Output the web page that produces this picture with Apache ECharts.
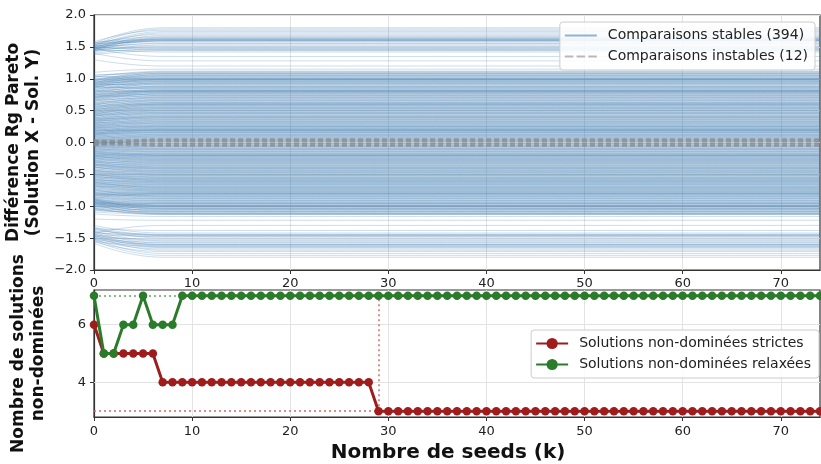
<!DOCTYPE html>
<html>
<head>
<meta charset="utf-8">
<script src="https://cdn.jsdelivr.net/npm/echarts@6/dist/echarts.min.js"></script>
<style>
html,body{margin:0;padding:0;background:#fff;}
#chart{width:821px;height:464px;}
</style>
</head>
<body>
<div id="chart"></div>
<script>
// ---------- DATA ----------
// Top panel: stable comparisons (394 lines): value at k=0 and settled value
const stableTopFinal = [1.80,1.78,1.76,1.74,1.72,1.70,1.68,1.66,1.65,1.64,1.63,1.62,1.62,1.61,1.61,1.60,1.60,1.59,1.58,1.56,1.55,1.53,1.51,1.50,1.48,1.47,1.46,1.45,1.44,1.42];
const stableTopStart = [1.55,1.52,1.58,1.50,1.47,1.53,1.45,1.56,1.49,1.44,1.52,1.57,1.46,1.50,1.54,1.48,1.43,1.51,1.55,1.46,1.49,1.42,1.52,1.45,1.48,1.40,1.50,1.44,1.38,1.47];
const stableGapHiFinal = [1.35,1.28,1.20,1.15];
const stableGapHiStart = [1.48,1.40,1.30,1.10];
const stableMidPosFinal = [
 1.12,1.11,1.10,1.09,1.08,1.08,1.07,1.06,1.05,1.045,1.04,1.03,1.02,1.01,1.005,1.00,1.00,0.99,0.99,0.985,
 0.98,0.97,0.965,0.96,0.95,0.95,0.94,0.93,0.925,0.92,0.91,0.90,0.89,0.88,0.875,0.87,0.86,0.855,0.85,0.84,
 0.83,0.82,0.82,0.815,0.81,0.805,0.80,0.80,0.79,0.785,0.78,0.77,0.765,0.76,0.75,0.74,0.735,0.73,0.72,0.71,
 0.705,0.70,0.69,0.68,0.67,0.665,0.66,0.65,0.64,0.63,0.625,0.62,0.61,0.605,0.60,0.60,0.59,0.585,0.58,0.57,
 0.56,0.555,0.55,0.54,0.535,0.53,0.52,0.51,0.505,0.50,0.49,0.48,0.475,0.47,0.46,0.455,0.45,0.44,0.43,0.42,
 0.415,0.41,0.40,0.40,0.39,0.385,0.38,0.37,0.36,0.355,0.35,0.34,0.33,0.325,0.32,0.31,0.305,0.30,0.29,0.28,
 0.275,0.27,0.26,0.255,0.25,0.245,0.24,0.23,0.225,0.22,0.21,0.205,0.20,0.20,0.19,0.19,0.185,0.18,0.17,0.165,
 0.16,0.155,0.15,0.14,0.13,0.125,0.12,0.11,0.105,0.10,0.09,0.085,0.08,0.07,0.06,0.055,0.05,0.04,0.035,0.03,0.02,0.015,0.01];
const stableMidPosStart = [
 1.02,0.96,1.05,0.93,0.99,1.06,0.90,0.98,0.94,1.03,0.88,0.97,0.92,1.00,0.86,0.95,1.04,0.89,0.93,0.98,
 0.85,0.91,0.96,0.82,0.88,0.93,0.80,0.87,0.90,0.78,0.84,0.92,0.76,0.83,0.86,0.79,0.74,0.81,0.88,0.72,
 0.77,0.70,0.79,0.74,0.68,0.76,0.72,0.81,0.66,0.71,0.75,0.64,0.70,0.68,0.73,0.62,0.67,0.71,0.60,0.65,
 0.58,0.66,0.61,0.55,0.63,0.59,0.52,0.60,0.56,0.50,0.58,0.54,0.48,0.57,0.51,0.55,0.46,0.53,0.49,0.44,
 0.52,0.47,0.43,0.50,0.45,0.40,0.48,0.42,0.46,0.38,0.44,0.41,0.36,0.43,0.39,0.34,0.42,0.37,0.33,0.39,
 0.35,0.31,0.37,0.33,0.29,0.36,0.32,0.27,0.34,0.30,0.25,0.31,0.28,0.24,0.30,0.26,0.22,0.28,0.24,0.21,
 0.26,0.20,0.23,0.18,0.24,0.19,0.16,0.22,0.17,0.14,0.20,0.15,0.18,0.12,0.16,0.19,0.13,0.15,0.11,0.14,
 0.12,0.09,0.13,0.10,0.07,0.11,0.08,0.05,0.09,0.06,0.04,0.07,0.03,0.05,0.02,0.04,0.01,0.03,-0.01,0.02,0.00,-0.02,0.01];
const stableMidNegFinal = [
 -0.01,-0.015,-0.02,-0.03,-0.04,-0.045,-0.05,-0.06,-0.065,-0.07,-0.08,-0.09,-0.095,-0.10,-0.11,-0.115,-0.12,-0.13,-0.14,-0.145,-0.15,-0.16,-0.17,
 -0.175,-0.18,-0.19,-0.195,-0.20,-0.20,-0.205,-0.21,-0.22,-0.225,-0.23,-0.24,-0.245,-0.25,-0.26,-0.265,-0.27,-0.28,-0.285,-0.29,
 -0.30,-0.305,-0.31,-0.32,-0.325,-0.33,-0.34,-0.35,-0.355,-0.36,-0.37,-0.38,-0.385,-0.39,-0.40,-0.40,-0.41,-0.415,-0.42,-0.43,
 -0.44,-0.445,-0.45,-0.46,-0.465,-0.47,-0.48,-0.49,-0.495,-0.50,-0.51,-0.515,-0.52,-0.53,-0.54,-0.545,-0.55,-0.56,-0.565,-0.57,
 -0.58,-0.585,-0.59,-0.60,-0.60,-0.61,-0.615,-0.62,-0.63,-0.635,-0.64,-0.65,-0.655,-0.66,-0.67,-0.68,-0.685,-0.69,-0.70,-0.705,
 -0.71,-0.72,-0.725,-0.73,-0.74,-0.745,-0.75,-0.76,-0.765,-0.77,-0.78,-0.785,-0.79,-0.80,-0.80,-0.805,-0.81,-0.82,-0.82,-0.83,
 -0.84,-0.845,-0.85,-0.86,-0.87,-0.875,-0.88,-0.89,-0.90,-0.91,-0.915,-0.92,-0.93,-0.94,-0.95,-0.95,-0.955,-0.96,-0.97,-0.98,
 -0.985,-0.99,-0.99,-1.00,-1.00,-1.005,-1.01,-1.02,-1.03,-1.04,-1.045,-1.05,-1.06,-1.07,-1.08,-1.08,-1.09,-1.10,-1.11,-1.12,-1.115,-1.125,-1.13,-1.035];
const stableMidNegStart = [
 0.01,-0.02,0.00,-0.04,-0.01,-0.03,-0.05,-0.02,-0.06,-0.04,-0.07,-0.05,-0.08,-0.06,-0.09,-0.11,-0.07,-0.10,-0.12,-0.09,-0.13,-0.11,-0.14,
 -0.16,-0.13,-0.17,-0.15,-0.19,-0.14,-0.18,-0.21,-0.16,-0.20,-0.17,-0.22,-0.19,-0.23,-0.20,-0.24,-0.22,-0.25,-0.21,-0.26,
 -0.24,-0.28,-0.27,-0.30,-0.25,-0.31,-0.29,-0.33,-0.28,-0.34,-0.31,-0.35,-0.30,-0.36,-0.33,-0.38,-0.34,-0.39,-0.35,-0.40,
 -0.36,-0.42,-0.39,-0.44,-0.38,-0.45,-0.41,-0.46,-0.43,-0.48,-0.44,-0.49,-0.46,-0.51,-0.47,-0.52,-0.49,-0.54,-0.50,-0.55,
 -0.50,-0.56,-0.53,-0.58,-0.52,-0.59,-0.55,-0.60,-0.57,-0.62,-0.58,-0.63,-0.60,-0.65,-0.61,-0.66,-0.63,-0.68,-0.64,-0.69,
 -0.62,-0.67,-0.70,-0.65,-0.72,-0.68,-0.74,-0.69,-0.76,-0.71,-0.78,-0.73,-0.80,-0.75,-0.82,-0.77,-0.84,-0.79,-0.86,-0.81,
 -0.74,-0.80,-0.83,-0.78,-0.86,-0.81,-0.88,-0.83,-0.90,-0.85,-0.92,-0.87,-0.94,-0.89,-0.96,-0.91,-0.98,-0.93,-1.00,-0.95,
 -0.88,-0.93,-1.01,-0.90,-0.97,-0.94,-1.03,-0.91,-0.98,-0.95,-1.05,-0.92,-1.00,-0.96,-1.07,-0.94,-1.02,-0.99,-1.06,-1.04,-0.97,-1.09,-1.03,-0.89];
const stableGapLoFinal = [-1.16,-1.22,-1.30,-1.38];
const stableGapLoStart = [-1.12,-1.20,-1.42,-1.35];
const stableBotFinal = [-1.42,-1.44,-1.45,-1.45,-1.46,-1.47,-1.48,-1.50,-1.52,-1.54,-1.55,-1.57,-1.58,-1.60,-1.60,-1.61,-1.62,-1.63,-1.64,-1.65,-1.67,-1.69,-1.71,-1.74,-1.77,-1.80];
const stableBotStart = [-1.30,-1.38,-1.33,-1.42,-1.36,-1.45,-1.40,-1.34,-1.47,-1.39,-1.44,-1.50,-1.41,-1.46,-1.52,-1.43,-1.48,-1.55,-1.45,-1.50,-1.53,-1.47,-1.56,-1.51,-1.54,-1.58];
// Unstable comparisons (12 lines)
const unstableFinal = [0.06,0.05,0.04,0.03,0.02,0.01,-0.01,-0.02,-0.03,-0.04,-0.05,-0.06];
const unstableStart = [-0.02,0.03,-0.05,0.01,-0.03,0.02,-0.04,0.00,0.04,-0.01,0.02,-0.03];
// k positions where the top-panel lines are sampled: start, settled, end
const sampleK = [0, 7, 74];

// Bottom panel
const seeds = [0,1,2,3,4,5,6,7,8,9,10,11,12,13,14,15,16,17,18,19,20,21,22,23,24,25,26,27,28,29,30,31,32,33,34,35,36,37,38,39,40,41,42,43,44,45,46,47,48,49,50,51,52,53,54,55,56,57,58,59,60,61,62,63,64,65,66,67,68,69,70,71,72,73,74];
const strictCounts = [6,5,5,5,5,5,5,4,4,4,4,4,4,4,4,4,4,4,4,4,4,4,4,4,4,4,4,4,4,3,3,3,3,3,3,3,3,3,3,3,3,3,3,3,3,3,3,3,3,3,3,3,3,3,3,3,3,3,3,3,3,3,3,3,3,3,3,3,3,3,3,3,3,3,3];
const relaxedCounts = [7,5,5,6,6,7,6,6,6,7,7,7,7,7,7,7,7,7,7,7,7,7,7,7,7,7,7,7,7,7,7,7,7,7,7,7,7,7,7,7,7,7,7,7,7,7,7,7,7,7,7,7,7,7,7,7,7,7,7,7,7,7,7,7,7,7,7,7,7,7,7,7,7,7,7];
const strictFinalLevel = 3, strictStableFrom = 29, relaxedLevel = 7;
const xTicks = [0,10,20,30,40,50,60,70];
const bottomYTicks = [4, 6];

const NAME_STABLE = 'Comparaisons stables (394)';
const NAME_UNSTABLE = 'Comparaisons instables (12)';
const NAME_STRICT = 'Solutions non-dominées strictes';
const NAME_RELAXED = 'Solutions non-dominées relaxées';

// ---------- BUILD ----------
const FONT = 'DejaVu Sans';
const GRIDC = '#e3e3e3';
const stableFinal = [].concat(stableTopFinal, stableGapHiFinal, stableMidPosFinal, stableMidNegFinal, stableGapLoFinal, stableBotFinal);
const stableStart = [].concat(stableTopStart, stableGapHiStart, stableMidPosStart, stableMidNegStart, stableGapLoStart, stableBotStart);

const series = [];
// vertical grid lines (both panels) at the x ticks
[0, 1].forEach(g => series.push({
  type: 'line', xAxisIndex: g, yAxisIndex: g, data: [], silent: true, z: 1,
  markLine: {
    silent: true, symbol: 'none', label: { show: false }, z: 1,
    lineStyle: { color: GRIDC, type: 'solid', width: 1 },
    data: xTicks.filter(v => v > 0).map(v => ({ xAxis: v }))
  }
}));
for (let i = 0; i < stableFinal.length; i++) {
  series.push({
    type: 'line', name: NAME_STABLE, xAxisIndex: 0, yAxisIndex: 0,
    data: [[sampleK[0], stableStart[i]], [sampleK[1], stableFinal[i]], [sampleK[2], stableFinal[i]]],
    smooth: 0.5, symbol: 'none', silent: true, z: 2,
    itemStyle: { color: '#4682b4' },
    lineStyle: { color: '#4682b4', width: 1, opacity: 0.27 }
  });
}
for (let i = 0; i < unstableFinal.length; i++) {
  series.push({
    type: 'line', name: NAME_UNSTABLE, xAxisIndex: 0, yAxisIndex: 0,
    data: [[sampleK[0], unstableStart[i]], [sampleK[1], unstableFinal[i]], [sampleK[2], unstableFinal[i]]],
    smooth: 0.5, symbol: 'none', silent: true, z: 3,
    itemStyle: { color: '#999999' },
    lineStyle: { color: '#8a8a8a', width: 1.5, type: [5, 3], opacity: 0.45 }
  });
}
const RED = '#9e1c1c', GREEN = '#2a7b2a';
series.push({
  type: 'line', name: NAME_STRICT, xAxisIndex: 1, yAxisIndex: 1,
  data: seeds.map((k, i) => [k, strictCounts[i]]),
  symbol: 'circle', symbolSize: 8.5, z: 4,
  itemStyle: { color: RED }, lineStyle: { color: RED, width: 3 },
  markLine: {
    silent: true, symbol: 'none', label: { show: false }, z: 2,
    lineStyle: { color: '#d06a6a', type: [2, 3], width: 1.5 },
    data: [
      [{ coord: [0, strictFinalLevel] }, { coord: [74, strictFinalLevel] }],
      [{ coord: [strictStableFrom, strictFinalLevel] }, { coord: [strictStableFrom, relaxedLevel] }]
    ]
  }
});
series.push({
  type: 'line', name: NAME_RELAXED, xAxisIndex: 1, yAxisIndex: 1,
  data: seeds.map((k, i) => [k, relaxedCounts[i]]),
  symbol: 'circle', symbolSize: 8.5, z: 5,
  itemStyle: { color: GREEN }, lineStyle: { color: GREEN, width: 3 },
  markLine: {
    silent: true, symbol: 'none', label: { show: false }, z: 2,
    lineStyle: { color: '#5fa85f', type: [2, 3], width: 1.5 },
    data: [[{ coord: [0, relaxedLevel] }, { coord: [74, relaxedLevel] }]]
  }
});
// light horizontal grid lines at the bottom panel's y ticks
series.push({
  type: 'line', xAxisIndex: 1, yAxisIndex: 1, data: [], silent: true, z: 1,
  markLine: {
    silent: true, symbol: 'none', label: { show: false }, z: 1,
    lineStyle: { color: GRIDC, type: 'solid', width: 1 },
    data: bottomYTicks.map(v => ({ yAxis: v }))
  }
});

const minus = s => s.replace('-', '\u2212');
const axisCommon = {
  axisLine: { show: true, onZero: false, lineStyle: { color: '#333', width: 1.2 } },
  axisTick: { show: true, length: 4, lineStyle: { color: '#333', width: 1 } },
  axisLabel: { color: '#222', fontSize: 13, fontFamily: FONT },
  splitLine: { show: true, lineStyle: { color: GRIDC, width: 1 } }
};
function xAxisFor(grid, margin) {
  return Object.assign({}, axisCommon, {
    type: 'value', gridIndex: grid, min: 0, max: 74, interval: 10,
    axisTick: Object.assign({}, axisCommon.axisTick, { customValues: xTicks }),
    axisLabel: Object.assign({}, axisCommon.axisLabel, { margin: margin, customValues: xTicks }),
    splitLine: { show: false }
  });
}
const axisNameStyle = { fontSize: 17, fontWeight: 'bold', color: '#111', fontFamily: FONT, lineHeight: 20 };
const legendCommon = {
  orient: 'vertical', padding: [5, 8, 5, 4], itemGap: 4, z: 10,
  itemWidth: 32, itemHeight: 14,
  backgroundColor: 'rgba(255,255,255,0.85)', borderColor: '#cccccc', borderWidth: 1, borderRadius: 3,
  textStyle: { fontSize: 14, color: '#222', fontFamily: FONT, padding: [0, 0, 0, 6], lineHeight: 17 }
};

const option = {
  animation: false,
  backgroundColor: '#fff',
  textStyle: { fontFamily: FONT },
  grid: [
    { left: 94, right: 1, top: 15, height: 255, show: true, borderColor: '#333', borderWidth: 1.2, containLabel: false, outerBoundsMode: 'none' },
    { left: 94, right: 1, top: 290, height: 127, show: true, borderColor: '#333', borderWidth: 1.2, containLabel: false, outerBoundsMode: 'none' }
  ],
  xAxis: [
    xAxisFor(0, 7),
    Object.assign(xAxisFor(1, 8), {
      name: 'Nombre de seeds (k)', nameLocation: 'middle', nameGap: 26,
      nameTextStyle: { fontSize: 20, fontWeight: 'bold', color: '#111', fontFamily: FONT, padding: [0, 18, 0, 0] } })
  ],
  yAxis: [
    Object.assign({}, axisCommon, { type: 'value', gridIndex: 0, min: -2, max: 2, interval: 0.5,
      axisLabel: Object.assign({}, axisCommon.axisLabel, { margin: 8, formatter: v => minus(v.toFixed(1)) }),
      name: 'Différence Rg Pareto\n(Solution X - Sol. Y)', nameLocation: 'middle', nameGap: 45,
      nameTextStyle: axisNameStyle }),
    Object.assign({}, axisCommon, { type: 'value', gridIndex: 1, min: 2.8, max: 7.2,
      axisTick: Object.assign({}, axisCommon.axisTick, { customValues: bottomYTicks }),
      axisLabel: Object.assign({}, axisCommon.axisLabel, { margin: 8, customValues: bottomYTicks, formatter: v => String(v) }),
      splitLine: { show: false },
      name: 'Nombre de solutions\nnon-dominées', nameLocation: 'middle', nameGap: 45,
      nameTextStyle: axisNameStyle })
  ],
  legend: [
    Object.assign({}, legendCommon, {
      right: 6, top: 22, padding: [5, 7, 5, 5],
      data: [
        { name: NAME_STABLE, icon: 'path://M0,6 L30,6 L30,8 L0,8 Z', itemStyle: { color: '#8fb1d6' } },
        { name: NAME_UNSTABLE, icon: 'path://M0,6 L8,6 L8,8 L0,8 Z M11,6 L19,6 L19,8 L11,8 Z M22,6 L30,6 L30,8 L22,8 Z', itemStyle: { color: '#b8b8b8' } }
      ]
    }),
    Object.assign({}, legendCommon, {
      right: 2, top: 330,
      data: [NAME_STRICT, NAME_RELAXED]
    })
  ],
  series: series
};

const chart = echarts.init(document.getElementById('chart'), null, { renderer: 'canvas' });
chart.setOption(option);
</script>
</body>
</html>
